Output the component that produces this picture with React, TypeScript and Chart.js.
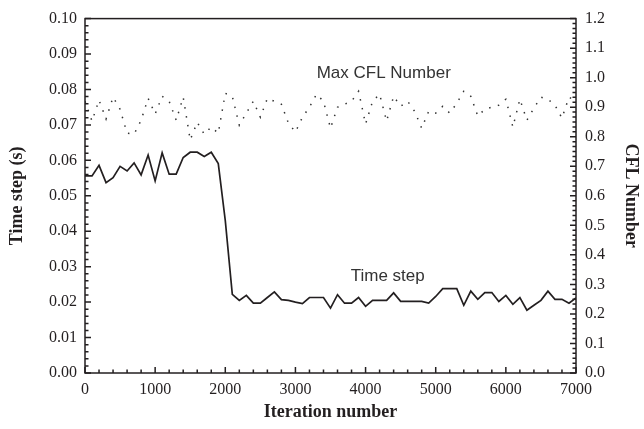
import React, { useEffect, useRef } from 'react';
import { Chart, registerables } from 'chart.js';

Chart.register(...registerables);

const iterations = [
  0, 100, 200, 300, 400, 500, 600, 700, 800, 900,
  1000, 1100, 1200, 1300, 1400, 1500, 1600, 1700, 1800, 1900,
  2000, 2100, 2200, 2300, 2400, 2500, 2600, 2700, 2800, 2900,
  3000, 3100, 3200, 3300, 3400, 3500, 3600, 3700, 3800, 3900,
  4000, 4100, 4200, 4300, 4400, 4500, 4600, 4700, 4800, 4900,
  5000, 5100, 5200, 5300, 5400, 5500, 5600, 5700, 5800, 5900,
  6000, 6100, 6200, 6300, 6400, 6500, 6600, 6700, 6800, 6900,
  7000,
];

const timeStep = [
  0.0556, 0.0556, 0.0586, 0.0537, 0.0551, 0.0583, 0.0570, 0.0593, 0.0559, 0.0615,
  0.0542, 0.0621, 0.0561, 0.0561, 0.0608, 0.0623, 0.0623, 0.0611, 0.0623, 0.0591,
  0.0430, 0.0222, 0.0205, 0.0219, 0.0197, 0.0197, 0.0213, 0.0229, 0.0207, 0.0205,
  0.0200, 0.0196, 0.0213, 0.0213, 0.0213, 0.0183, 0.0221, 0.0197, 0.0197, 0.0213,
  0.0188, 0.0205, 0.0205, 0.0205, 0.0226, 0.0202, 0.0202, 0.0202, 0.0202, 0.0197,
  0.0216, 0.0238, 0.0238, 0.0238, 0.0191, 0.0231, 0.0208, 0.0227, 0.0227, 0.0202,
  0.0219, 0.0194, 0.0213, 0.0177, 0.0191, 0.0205, 0.0231, 0.0208, 0.0208, 0.0197,
  0.0212,
];

const maxCfl = [
  0.920, 0.853, 0.924, 0.860, 0.934, 0.893, 0.812, 0.809, 0.856, 0.930,
  0.877, 0.937, 0.920, 0.856, 0.934, 0.789, 0.849, 0.809, 0.833, 0.812,
  0.947, 0.937, 0.839, 0.880, 0.920, 0.866, 0.930, 0.920, 0.910, 0.846,
  0.816, 0.866, 0.900, 0.944, 0.920, 0.829, 0.900, 0.910, 0.920, 0.954,
  0.843, 0.920, 0.944, 0.853, 0.937, 0.903, 0.920, 0.886, 0.829, 0.886,
  0.880, 0.903, 0.880, 0.913, 0.954, 0.937, 0.870, 0.893, 0.900, 0.907,
  0.927, 0.833, 0.927, 0.856, 0.897, 0.934, 0.927, 0.907, 0.863, 0.934,
  0.920,
];

const xTickLabels = [0, 1000, 2000, 3000, 4000, 5000, 6000, 7000];
const leftTickLabels = [0, 0.01, 0.02, 0.03, 0.04, 0.05, 0.06, 0.07, 0.08, 0.09, 0.1];
const rightTickLabels = [0, 0.1, 0.2, 0.3, 0.4, 0.5, 0.6, 0.7, 0.8, 0.9, 1.0, 1.1, 1.2];

// annotation anchors in data units (x: iteration, y: time step axis)
const cflLabel = { text: 'Max CFL Number', x: 4259, y: 0.0845 };
const stepLabel = { text: 'Time step', x: 4316, y: 0.0272 };

const INK = '#231f20';
const SERIF = "'Liberation Serif', 'Times New Roman', 'DejaVu Serif', serif";
const SANS = "'Liberation Sans', Arial, 'DejaVu Sans', sans-serif";

const framePlugin = {
  id: 'frameTicks',
  afterDatasetsDraw(chart: any) {
    const { ctx, chartArea: a, scales } = chart;
    const xs = scales.x;
    const yl = scales.y;
    const yr = scales.y1;
    ctx.save();
    ctx.strokeStyle = INK;
    ctx.lineWidth = 1.5;
    ctx.strokeRect(a.left, a.top, a.right - a.left, a.bottom - a.top);
    ctx.beginPath();
    // bottom ticks (inward)
    for (let i = 0; i <= 35; i++) {
      const px = xs.getPixelForValue(i * 200);
      const len = i % 5 === 0 ? 6 : 3.5;
      ctx.moveTo(px, a.bottom);
      ctx.lineTo(px, a.bottom - len);
    }
    // left ticks (inward)
    for (let i = 0; i <= 50; i++) {
      const py = yl.getPixelForValue(i * 0.002);
      const len = i % 5 === 0 ? 6 : 3.5;
      ctx.moveTo(a.left, py);
      ctx.lineTo(a.left + len, py);
    }
    // right ticks (inward)
    for (let i = 0; i <= 72; i++) {
      const py = yr.getPixelForValue((i * 0.1) / 6);
      const len = i % 6 === 0 ? 6 : 3.5;
      ctx.moveTo(a.right, py);
      ctx.lineTo(a.right - len, py);
    }
    ctx.stroke();

    ctx.fillStyle = '#333';
    ctx.font = `17px ${SANS}`;
    ctx.textAlign = 'center';
    ctx.textBaseline = 'middle';
    for (const lab of [cflLabel, stepLabel]) {
      ctx.fillText(lab.text, xs.getPixelForValue(lab.x), yl.getPixelForValue(lab.y));
    }
    ctx.restore();
  },
};

export default function App() {
  const ref = useRef<HTMLCanvasElement | null>(null);

  useEffect(() => {
    document.body.style.margin = '0';
    const canvas = ref.current;
    if (!canvas) return;
    const tickFont = { family: SERIF, size: 16 };
    const titleFont = { family: SERIF, size: 18, weight: 'bold' as const };
    const chart = new Chart(canvas, {
      type: 'line',
      data: {
        datasets: [
          {
            label: 'Time step',
            data: iterations.map((x, i) => ({ x, y: timeStep[i] })),
            borderColor: INK,
            borderWidth: 1.7,
            pointRadius: 0,
            tension: 0,
            yAxisID: 'y',
          },
          {
            label: 'Max CFL Number',
            data: iterations.map((x, i) => ({ x, y: maxCfl[i] })),
            borderColor: '#333',
            borderWidth: 1.5,
            borderDash: [1.5, 7.5],
            pointRadius: 0,
            tension: 0,
            yAxisID: 'y1',
          },
        ],
      },
      options: {
        responsive: false,
        animation: false,
        devicePixelRatio: 1,
        layout: { padding: { top: 17, left: 0, right: 0, bottom: 0 } },
        plugins: { legend: { display: false }, tooltip: { enabled: false } },
        scales: {
          x: {
            type: 'linear',
            position: 'bottom',
            min: 0,
            max: 7000,
            grid: { display: false, drawTicks: false },
            border: { display: false },
            afterBuildTicks: (s: any) => {
              s.ticks = xTickLabels.map((v) => ({ value: v }));
            },
            afterFit: (s: any) => {
              s.height = 56;
            },
            ticks: {
              autoSkip: false,
              maxRotation: 0,
              padding: 7,
              color: INK,
              font: tickFont,
              callback: (v: any) => String(v),
            },
            title: {
              display: true,
              text: 'Iteration number',
              color: INK,
              font: titleFont,
              padding: { top: 0, bottom: 6 },
            },
          },
          y: {
            type: 'linear',
            position: 'left',
            min: 0,
            max: 0.1,
            grid: { display: false, drawTicks: false },
            border: { display: false },
            afterBuildTicks: (s: any) => {
              s.ticks = leftTickLabels.map((v) => ({ value: v }));
            },
            afterFit: (s: any) => {
              s.width = 85;
            },
            ticks: {
              autoSkip: false,
              padding: 8,
              color: INK,
              font: tickFont,
              callback: (v: any) => Number(v).toFixed(2),
            },
            title: {
              display: true,
              text: 'Time step (s)',
              color: INK,
              font: titleFont,
              padding: { top: 7, bottom: 0 },
            },
          },
          y1: {
            type: 'linear',
            position: 'right',
            min: 0,
            max: 1.2,
            grid: { display: false, drawTicks: false },
            border: { display: false },
            afterBuildTicks: (s: any) => {
              s.ticks = rightTickLabels.map((v) => ({ value: v }));
            },
            afterFit: (s: any) => {
              s.width = 68;
            },
            ticks: {
              autoSkip: false,
              padding: 9,
              color: INK,
              font: tickFont,
              callback: (v: any) => Number(v).toFixed(1),
            },
            title: {
              display: true,
              text: 'CFL Number',
              color: INK,
              font: titleFont,
              padding: { top: 3, bottom: 0 },
            },
          },
        },
      },
      plugins: [framePlugin],
    });
    return () => chart.destroy();
  }, []);

  return (
    <div style={{ width: 644, height: 429, background: '#fff' }}>
      <canvas ref={ref} width={644} height={429} style={{ display: 'block' }} />
    </div>
  );
}
